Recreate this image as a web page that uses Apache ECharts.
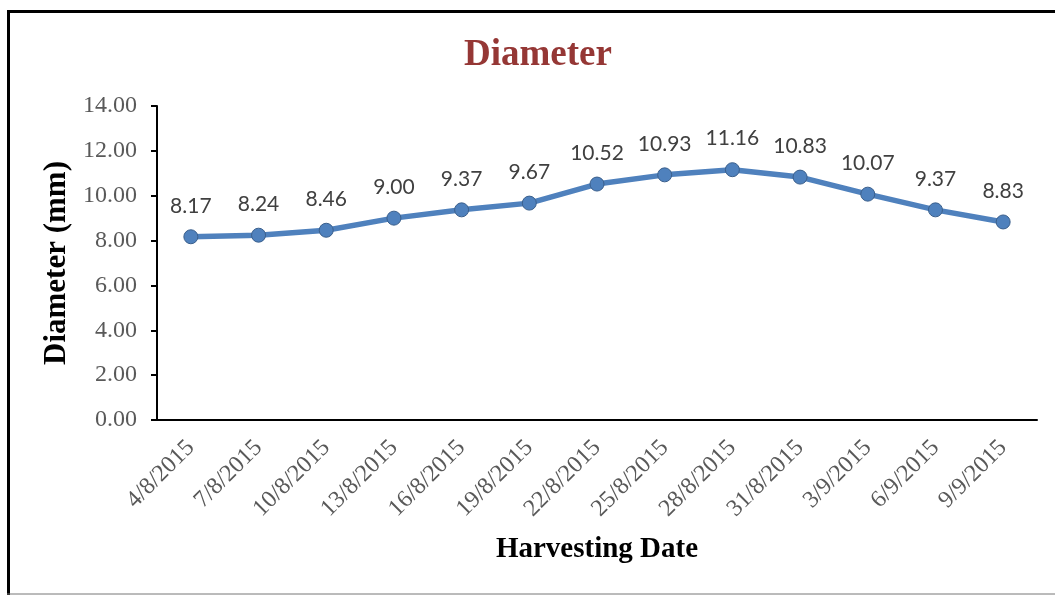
<!DOCTYPE html>
<html>
<head>
<meta charset="utf-8">
<script src="https://cdn.jsdelivr.net/npm/echarts@6/dist/echarts.min.js"></script>
<style>
html,body{margin:0;padding:0;background:#fff;}
#chart{width:1055px;height:595px;}
</style>
</head>
<body>
<div id="chart"></div>
<script>
var categories = ['4/8/2015','7/8/2015','10/8/2015','13/8/2015','16/8/2015','19/8/2015','22/8/2015','25/8/2015','28/8/2015','31/8/2015','3/9/2015','6/9/2015','9/9/2015'];
var diameterValues = [8.17, 8.24, 8.46, 9.00, 9.37, 9.67, 10.52, 10.93, 11.16, 10.83, 10.07, 9.37, 8.83];
var chartTitle = 'Diameter';
var xAxisTitle = 'Harvesting Date';
var yAxisTitle = 'Diameter (mm)';

var chart = echarts.init(document.getElementById('chart'), null, {renderer: 'canvas'});
var serif = '"Liberation Serif", "Times New Roman", serif';
chart.setOption({
  animation: false,
  backgroundColor: '#ffffff',
  title: {
    text: chartTitle,
    left: 459,
    top: 32,
    textStyle: {fontFamily: serif, fontWeight: 'bold', fontSize: 37, color: '#953735'}
  },
  grid: {left: 157, right: 18, top: 106, bottom: 175, containLabel: false},
  xAxis: {
    type: 'category',
    data: categories,
    boundaryGap: true,
    name: xAxisTitle,
    nameLocation: 'middle',
    nameGap: 115,
    nameTextStyle: {fontFamily: serif, fontWeight: 'bold', fontSize: 29, color: '#000'},
    axisLine: {lineStyle: {color: '#000', width: 2}},
    axisTick: {alignWithLabel: true, length: 6, lineStyle: {color: '#000', width: 2}},
    axisLabel: {rotate: 45, fontFamily: serif, fontSize: 24, color: '#595959', margin: 24}
  },
  yAxis: {
    type: 'value',
    min: 0, max: 14, interval: 2,
    name: yAxisTitle,
    nameLocation: 'middle',
    nameGap: 79,
    nameTextStyle: {fontFamily: serif, fontWeight: 'bold', fontSize: 31, color: '#000'},
    axisLine: {show: true, lineStyle: {color: '#000', width: 2}},
    axisTick: {show: true, length: 6, lineStyle: {color: '#000', width: 2}},
    splitLine: {show: false},
    axisLabel: {fontFamily: serif, fontSize: 24, color: '#595959', margin: 20,
      formatter: function (v) { return v.toFixed(2); }}
  },
  series: [{
    type: 'line',
    data: diameterValues,
    symbol: 'circle',
    symbolSize: 14,
    lineStyle: {color: '#4F81BD', width: 5.5},
    itemStyle: {color: '#4F81BD', borderColor: '#3a5f8c', borderWidth: 1},
    label: {
      show: true, position: 'top', distance: 13,
      fontFamily: 'Lato, "Open Sans", sans-serif', fontSize: 21, color: '#404040',
      formatter: function (p) { return p.value.toFixed(2); }
    }
  }],
  graphic: [
    {type: 'line', shape: {x1: 8.5, y1: 10, x2: 8.5, y2: 595}, style: {stroke: '#000', lineWidth: 3}},
    {type: 'line', shape: {x1: 7, y1: 11.5, x2: 1055, y2: 11.5}, style: {stroke: '#000', lineWidth: 3}},
    {type: 'line', shape: {x1: 7, y1: 594, x2: 1055, y2: 594}, style: {stroke: '#777', lineWidth: 1}}
  ]
});
</script>
</body>
</html>
